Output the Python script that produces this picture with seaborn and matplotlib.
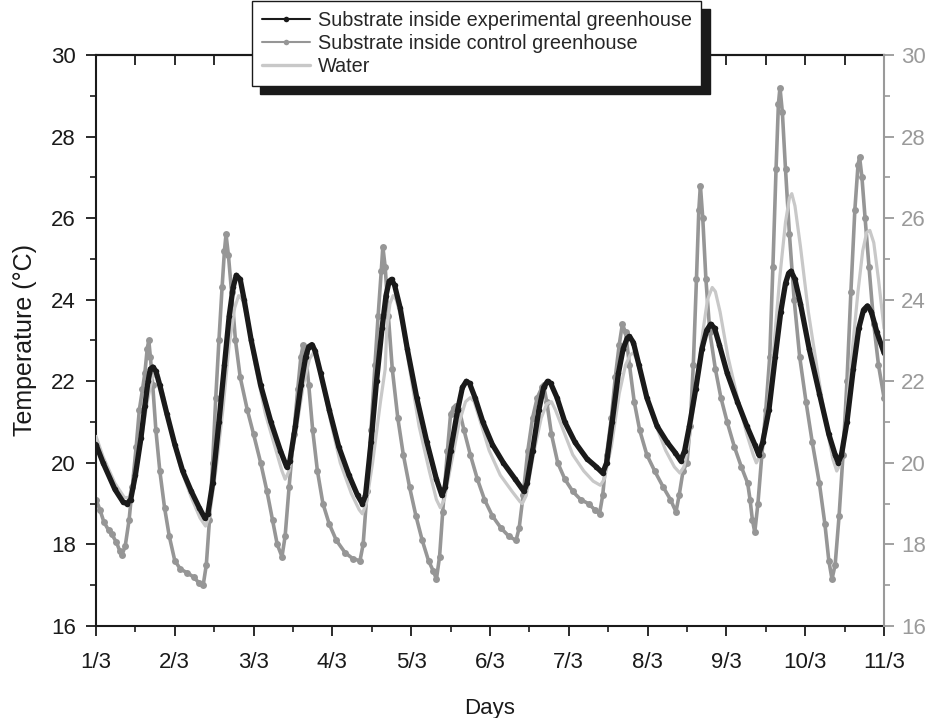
import numpy as np
import pandas as pd
import matplotlib
matplotlib.use("Agg")
import matplotlib.pyplot as plt
from matplotlib.lines import Line2D
from matplotlib.ticker import MultipleLocator
import seaborn as sns

# ---- data (days since 1/3, temperature in °C) ----
exp_day = [0.00, 0.09, 0.24, 0.34, 0.39, 0.44, 0.50, 0.57, 0.62, 0.66, 0.69, 0.72, 0.76, 0.81, 0.90, 1.00,
           1.10, 1.21, 1.31, 1.38, 1.42, 1.48, 1.56, 1.63, 1.69, 1.74, 1.78, 1.83, 1.88, 1.97, 2.09, 2.22,
           2.34, 2.42, 2.46, 2.53, 2.60, 2.66, 2.70, 2.74, 2.78, 2.85, 2.96, 3.08, 3.21, 3.32, 3.38, 3.42,
           3.49, 3.56, 3.63, 3.68, 3.72, 3.75, 3.79, 3.86, 3.95, 4.07, 4.20, 4.32, 4.39, 4.43, 4.50, 4.59,
           4.65, 4.70, 4.74, 4.81, 4.91, 5.03, 5.17, 5.32, 5.43, 5.47, 5.54, 5.62, 5.68, 5.73, 5.77, 5.85,
           5.95, 6.08, 6.23, 6.35, 6.43, 6.48, 6.55, 6.63, 6.69, 6.74, 6.77, 6.82, 6.89, 6.99, 7.12, 7.25,
           7.35, 7.42, 7.47, 7.53, 7.61, 7.69, 7.75, 7.80, 7.85, 7.91, 8.01, 8.14, 8.26, 8.36, 8.41, 8.46,
           8.54, 8.62, 8.69, 8.75, 8.79, 8.82, 8.87, 8.94, 9.05, 9.18, 9.30, 9.38, 9.42, 9.46, 9.53, 9.61,
           9.68, 9.74, 9.79, 9.84, 9.91, 10.00]
exp_temp = [20.45, 20.0, 19.35, 19.05, 19.0, 19.1, 19.7, 20.6, 21.4, 22.0, 22.3, 22.35, 22.25, 21.9, 21.2, 20.45,
            19.8, 19.3, 18.9, 18.65, 18.75, 19.5, 21.0, 22.4, 23.6, 24.3, 24.6, 24.5, 24.0, 23.0, 21.9, 21.0,
            20.3, 19.9, 20.05, 20.9, 21.9, 22.6, 22.85, 22.9, 22.75, 22.2, 21.3, 20.4, 19.7, 19.2, 19.0, 19.2,
            20.5, 22.0, 23.3, 24.1, 24.45, 24.5, 24.35, 23.8, 22.8, 21.6, 20.5, 19.6, 19.2, 19.4, 20.3, 21.3,
            21.85, 22.0, 21.95, 21.6, 21.0, 20.45, 20.0, 19.6, 19.3, 19.5, 20.3, 21.3, 21.85, 22.0, 21.95, 21.6,
            21.0, 20.5, 20.1, 19.9, 19.75, 20.0, 21.0, 22.2, 22.8, 23.05, 23.1, 22.95, 22.4, 21.6, 20.9, 20.5,
            20.25, 20.05, 20.3, 20.9, 21.8, 22.8, 23.25, 23.4, 23.3, 22.9, 22.2, 21.5, 20.9, 20.45, 20.2, 20.5,
            21.3, 22.6, 23.7, 24.4, 24.65, 24.7, 24.5, 23.9, 22.8, 21.7, 20.7, 20.2, 20.0, 20.2, 21.0, 22.3,
            23.3, 23.75, 23.85, 23.7, 23.2, 22.7]

ctl_day = [0.00, 0.05, 0.10, 0.16, 0.20, 0.26, 0.30, 0.33, 0.37, 0.42, 0.46, 0.51, 0.55, 0.59, 0.62, 0.65,
           0.67, 0.69, 0.72, 0.76, 0.81, 0.87, 0.93, 1.00, 1.07, 1.16, 1.24, 1.31, 1.36, 1.40, 1.44, 1.48,
           1.52, 1.56, 1.60, 1.63, 1.65, 1.68, 1.72, 1.77, 1.83, 1.92, 2.00, 2.09, 2.17, 2.24, 2.30, 2.36,
           2.40, 2.45, 2.51, 2.56, 2.60, 2.63, 2.66, 2.70, 2.75, 2.81, 2.88, 2.96, 3.05, 3.16, 3.26, 3.35,
           3.39, 3.44, 3.49, 3.54, 3.58, 3.62, 3.64, 3.67, 3.71, 3.76, 3.83, 3.90, 3.98, 4.06, 4.14, 4.22,
           4.28, 4.32, 4.36, 4.40, 4.46, 4.50, 4.54, 4.57, 4.61, 4.67, 4.75, 4.84, 4.93, 5.03, 5.14, 5.24,
           5.33, 5.37, 5.42, 5.48, 5.54, 5.60, 5.66, 5.68, 5.72, 5.78, 5.86, 5.95, 6.05, 6.15, 6.25, 6.33,
           6.39, 6.43, 6.48, 6.54, 6.59, 6.64, 6.68, 6.72, 6.77, 6.83, 6.90, 6.99, 7.09, 7.20, 7.29, 7.36,
           7.40, 7.45, 7.50, 7.54, 7.58, 7.62, 7.65, 7.67, 7.70, 7.74, 7.79, 7.86, 7.93, 8.01, 8.10, 8.19,
           8.27, 8.30, 8.33, 8.36, 8.40, 8.45, 8.50, 8.55, 8.59, 8.63, 8.66, 8.68, 8.71, 8.75, 8.80, 8.86,
           8.93, 9.01, 9.09, 9.18, 9.25, 9.30, 9.34, 9.38, 9.43, 9.48, 9.53, 9.58, 9.63, 9.67, 9.69, 9.72,
           9.76, 9.81, 9.87, 9.93, 10.00]
ctl_temp = [19.1, 18.85, 18.55, 18.35, 18.25, 18.05, 17.85, 17.75, 17.95, 18.6, 19.4, 20.4, 21.3, 21.8, 22.2, 22.8,
            23.0, 22.6, 21.9, 20.8, 19.8, 18.9, 18.2, 17.6, 17.4, 17.3, 17.2, 17.05, 17.0, 17.5, 18.6, 20.0,
            21.6, 23.0, 24.3, 25.2, 25.6, 25.1, 24.2, 23.0, 22.1, 21.3, 20.7, 20.0, 19.3, 18.6, 18.0, 17.7,
            18.2, 19.4, 20.7, 21.8, 22.6, 22.9, 22.7, 21.9, 20.8, 19.8, 19.0, 18.5, 18.1, 17.8, 17.65, 17.6,
            18.0, 19.3, 20.8, 22.4, 23.6, 24.7, 25.3, 24.8, 23.6, 22.3, 21.1, 20.2, 19.4, 18.7, 18.1, 17.6,
            17.35, 17.15, 17.7, 18.8, 20.3, 21.2, 21.35, 21.4, 21.3, 20.8, 20.2, 19.6, 19.1, 18.7, 18.4, 18.2,
            18.1, 18.4, 19.2, 20.3, 21.1, 21.6, 21.85, 21.9, 21.5, 20.7, 20.0, 19.6, 19.3, 19.1, 19.0, 18.85,
            18.75, 19.2, 20.2, 21.1, 22.1, 22.9, 23.4, 23.2, 22.4, 21.5, 20.8, 20.2, 19.8, 19.4, 19.1, 18.8,
            19.2, 19.8, 20.0, 20.9, 22.4, 24.5, 26.2, 26.8, 26.0, 24.5, 23.2, 22.3, 21.6, 21.0, 20.4, 19.9,
            19.5, 19.1, 18.6, 18.3, 19.0, 20.2, 21.3, 22.6, 24.8, 27.2, 28.8, 29.2, 28.6, 27.2, 25.6, 24.0,
            22.6, 21.5, 20.5, 19.5, 18.5, 17.6, 17.15, 17.5, 18.7, 20.2, 22.0, 24.2, 26.2, 27.3, 27.5, 27.0,
            26.0, 24.8, 23.4, 22.4, 21.6]

wat_day = [0.00, 0.09, 0.24, 0.36, 0.42, 0.48, 0.57, 0.65, 0.71, 0.75, 0.79, 0.85, 0.95, 1.07, 1.21, 1.32,
           1.39, 1.44, 1.52, 1.61, 1.69, 1.76, 1.81, 1.86, 1.92, 2.02, 2.15, 2.27, 2.36, 2.40, 2.45, 2.54,
           2.63, 2.71, 2.76, 2.80, 2.86, 2.98, 3.10, 3.24, 3.34, 3.38, 3.43, 3.51, 3.61, 3.67, 3.69, 3.73,
           3.77, 3.81, 3.88, 3.98, 4.10, 4.23, 4.32, 4.37, 4.42, 4.50, 4.61, 4.69, 4.75, 4.80, 4.88, 4.99,
           5.13, 5.28, 5.38, 5.41, 5.46, 5.55, 5.65, 5.72, 5.78, 5.83, 5.93, 6.05, 6.19, 6.31, 6.40, 6.45,
           6.54, 6.64, 6.72, 6.78, 6.82, 6.87, 6.96, 7.09, 7.23, 7.34, 7.41, 7.46, 7.53, 7.62, 7.70, 7.76,
           7.82, 7.86, 7.92, 8.02, 8.14, 8.26, 8.34, 8.38, 8.43, 8.52, 8.60, 8.68, 8.75, 8.80, 8.83, 8.87,
           8.94, 9.04, 9.16, 9.27, 9.35, 9.40, 9.44, 9.51, 9.59, 9.67, 9.73, 9.78, 9.82, 9.87, 9.93, 10.00]
wat_temp = [20.65, 20.15, 19.5, 19.15, 19.15, 19.6, 20.5, 21.5, 22.05, 22.2, 22.15, 21.7, 20.8, 19.9, 19.15, 18.65,
            18.45, 18.7, 19.8, 21.3, 22.9, 23.8, 24.1, 24.0, 23.5, 22.4, 21.2, 20.4, 19.8, 19.6, 19.8, 20.8,
            21.9, 22.55, 22.7, 22.6, 22.1, 21.0, 20.0, 19.25, 18.85, 18.75, 19.0, 20.0, 21.5, 22.3, 23.3, 23.9,
            24.1, 24.0, 23.5, 22.3, 20.9, 19.8, 19.1, 18.9, 19.1, 19.9, 21.0, 21.5, 21.6, 21.5, 21.0, 20.3,
            19.7, 19.3, 19.05, 19.0, 19.2, 20.2, 21.1, 21.45, 21.5, 21.3, 20.8, 20.2, 19.8, 19.55, 19.45, 19.6,
            20.4, 21.7, 22.4, 22.65, 22.7, 22.5, 21.8, 21.0, 20.3, 19.9, 19.75, 19.9, 20.6, 21.9, 23.2, 24.0,
            24.3, 24.2, 23.7, 22.6, 21.6, 20.7, 20.2, 20.0, 20.2, 21.2, 22.8, 24.6, 25.9, 26.5, 26.6, 26.3,
            25.3, 23.7, 22.2, 20.9, 20.1, 19.8, 19.95, 20.9, 22.6, 24.2, 25.2, 25.65, 25.7, 25.4, 24.5, 23.3]

day_ticks = [0, 1, 2, 3, 4, 5, 6, 7, 8, 9, 10]
day_labels = ["1/3", "2/3", "3/3", "4/3", "5/3", "6/3", "7/3", "8/3", "9/3", "10/3", "11/3"]
series_names = ["Substrate inside experimental greenhouse", "Substrate inside control greenhouse", "Water"]

C_EXP = "#1a1a1a"
C_CTL = "#969696"
C_WAT = "#c8c8c8"
C_RIGHT = "#9a9a9a"

sns.set_style("ticks")
plt.rcParams["font.family"] = ["Liberation Sans", "DejaVu Sans"]

fig = plt.figure(figsize=(9.31, 7.18), dpi=100)
ax = fig.add_axes([96/931, 1 - 626/718, 788/931, 571/718])

sns.lineplot(x=ctl_day, y=ctl_temp, ax=ax, color=C_CTL, lw=2.6, marker="o", markersize=5,
             markeredgewidth=0, sort=False, estimator=None, zorder=2)
sns.lineplot(x=wat_day, y=wat_temp, ax=ax, color=C_WAT, lw=2.3, sort=False, estimator=None, zorder=3)
sns.lineplot(x=exp_day, y=exp_temp, ax=ax, color=C_EXP, lw=3.8, marker="o", markersize=4,
             markeredgewidth=0, sort=False, estimator=None, zorder=4)

ax.set_xlim(0, 10)
ax.set_ylim(16, 30)
ax.set_xticks(day_ticks)
ax.set_xticklabels(day_labels)
ax.xaxis.set_minor_locator(MultipleLocator(0.5))
ax.yaxis.set_major_locator(MultipleLocator(2))
ax.yaxis.set_minor_locator(MultipleLocator(1))
for s in ["left", "bottom", "top"]:
    ax.spines[s].set_visible(True)
    ax.spines[s].set_color("#1a1a1a")
    ax.spines[s].set_linewidth(1.5)
ax.spines["right"].set_visible(False)
ax.tick_params(axis="both", which="major", direction="out", length=7.5, width=1.3,
               labelsize=16, colors="#1a1a1a")
ax.tick_params(axis="both", which="minor", direction="out", length=4.5, width=1.2, colors="#1a1a1a")
ax.tick_params(axis="x", which="major", pad=11)
ax.tick_params(axis="y", which="major", pad=7)
ax.tick_params(axis="x", which="both", top=False)
ax.set_xlabel("Days", fontsize=16, labelpad=18, color="#1a1a1a")
ax.set_ylabel("Temperature (°C)", fontsize=18, labelpad=10, color="#1a1a1a")

# inward ticks on top spine
secx = ax.secondary_xaxis("top")
secx.set_xticks(day_ticks)
secx.xaxis.set_minor_locator(MultipleLocator(0.5))
secx.tick_params(axis="x", which="both", direction="in", length=7, width=1.3,
                 colors="#1a1a1a", labeltop=False)
secx.spines["top"].set_color("#1a1a1a")
secx.spines["top"].set_linewidth(1.5)

ax2 = ax.twinx()
ax2.set_ylim(16, 30)
ax2.yaxis.set_major_locator(MultipleLocator(2))
ax2.yaxis.set_minor_locator(MultipleLocator(1))
for s in ["left", "bottom", "top"]:
    ax2.spines[s].set_visible(False)
ax2.spines["right"].set_visible(True)
ax2.spines["right"].set_color(C_RIGHT)
ax2.spines["right"].set_linewidth(1.5)
ax2.tick_params(axis="y", which="major", direction="out", length=7.5, width=1.3,
                labelsize=16, colors=C_RIGHT, pad=5)
ax2.tick_params(axis="y", which="minor", direction="out", length=4.5, width=1.2, colors=C_RIGHT)

handles = [
    Line2D([], [], color=C_EXP, lw=1.5, marker="o", markersize=4, markeredgewidth=0),
    Line2D([], [], color=C_CTL, lw=1.5, marker="o", markersize=4, markeredgewidth=0),
    Line2D([], [], color=C_WAT, lw=2.4),
]
leg = fig.legend(handles, series_names, loc="upper left", bbox_to_anchor=(252/931, 1 - 1/718),
                 fontsize=14.3, frameon=True, fancybox=False,
                 shadow={"color": "#1a1a1a", "alpha": 1, "ox": 6, "oy": -6},
                 handlelength=2.4, handletextpad=0.4, labelspacing=0.2, borderpad=0.5,
                 borderaxespad=0)
leg.get_frame().set_edgecolor("#1a1a1a")
leg.get_frame().set_linewidth(1.0)
leg.get_frame().set_alpha(1)
leg.set_zorder(10)

fig.savefig("out.png", dpi=100)
